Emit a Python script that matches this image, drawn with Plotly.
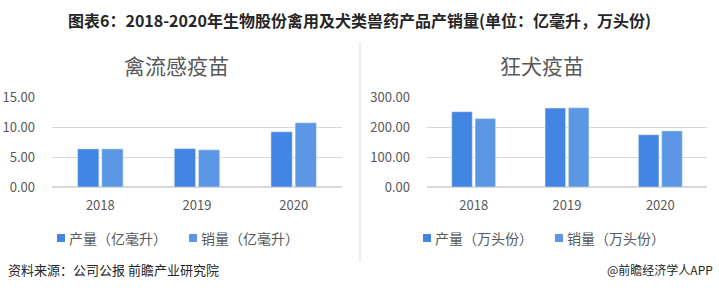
import plotly.graph_objects as go

years = ["2018", "2019", "2020"]
flu_prod = [6.35, 6.4, 9.2]
flu_sales = [6.35, 6.2, 10.7]
rabies_prod = [251, 263, 174]
rabies_sales = [228, 264, 187]

flu_names = ["产量（亿毫升）", "销量（亿毫升）"]
rab_names = ["产量（万头份）", "销量（万头份）"]
c_dark = "#4285E2"
c_light = "#5B97E5"
FONT = "Noto Sans CJK SC"
grey = "#595959"

fig = go.Figure()
fig.add_bar(x=years, y=flu_prod, name=flu_names[0], marker_color=c_dark,
            xaxis="x", yaxis="y", showlegend=False)
fig.add_bar(x=years, y=flu_sales, name=flu_names[1], marker_color=c_light,
            xaxis="x", yaxis="y", showlegend=False)
fig.add_bar(x=years, y=rabies_prod, name=rab_names[0], marker_color=c_dark,
            xaxis="x2", yaxis="y2", showlegend=False)
fig.add_bar(x=years, y=rabies_sales, name=rab_names[1], marker_color=c_light,
            xaxis="x2", yaxis="y2", showlegend=False)

W, H = 719, 291
ydom = [1 - 187 / H, 1 - 97 / H]
axis_common = dict(tickfont=dict(family=FONT, size=13, color=grey), automargin=False)
fig.update_layout(
    width=W, height=H, margin=dict(l=0, r=0, t=0, b=0, autoexpand=False),
    paper_bgcolor="white", plot_bgcolor="white",
    barmode="group", bargap=0.5, bargroupgap=0.12,
    font=dict(family=FONT, color=grey),
    xaxis=dict(domain=[52 / W, 342 / W], anchor="y", showgrid=False,
               showline=False, ticks="", ticklabelstandoff=9, **axis_common),
    yaxis=dict(domain=ydom, anchor="x", range=[0, 15], dtick=5,
               tickformat=".2f", gridcolor="#d9d9d9", gridwidth=1,
               zeroline=True, zerolinecolor="#d9d9d9", ticks="",
               ticklabelstandoff=16, **axis_common),
    xaxis2=dict(domain=[427 / W, 707 / W], anchor="y2", showgrid=False,
                showline=False, ticks="", ticklabelstandoff=9, **axis_common),
    yaxis2=dict(domain=ydom, anchor="x2", range=[0, 300], dtick=100,
                tickformat=".2f", gridcolor="#d9d9d9", gridwidth=1,
                zeroline=True, zerolinecolor="#d9d9d9", ticks="",
                ticklabelstandoff=16, **axis_common),
    showlegend=False,
)

def ann(text, x, y, size, color, xanchor="center", bold=False):
    fig.add_annotation(text=f"<b>{text}</b>" if bold else text, x=x / W, y=1 - y / H,
                       xref="paper", yref="paper", xanchor=xanchor, yanchor="middle",
                       showarrow=False, font=dict(family=FONT, size=size, color=color))

# legends (square marker + label)
legend_items = [
    (57, flu_names[0], c_dark), (189, flu_names[1], c_light),
    (423, rab_names[0], c_dark), (555, rab_names[1], c_light),
]
for lx, label, col in legend_items:
    fig.add_shape(type="rect", x0=lx / W, x1=(lx + 8) / W, y0=1 - 242 / H, y1=1 - 234 / H,
                  xref="paper", yref="paper", fillcolor=col, line=dict(width=0))
    ann(label, lx + 10, 238, 14, grey, xanchor="left")

ann("图表6：2018-2020年生物股份禽用及犬类兽药产品产销量(单位：亿毫升，万头份)", 359, 20, 16, "#262626", bold=True)
ann("禽流感疫苗", 176, 65, 21, grey)
ann("狂犬疫苗", 542, 65, 21, grey)
ann("资料来源：公司公报 前瞻产业研究院", 6, 269, 13, "#262626", xanchor="left")
ann("@前瞻经济学人APP", 715, 269, 12, "#262626", xanchor="right")
fig.add_shape(type="line", x0=360 / W, x1=360 / W, y0=1 - 42 / H, y1=1 - 262 / H,
              xref="paper", yref="paper", line=dict(color="#d9d9d9", width=1))

fig.write_html("out.html")
